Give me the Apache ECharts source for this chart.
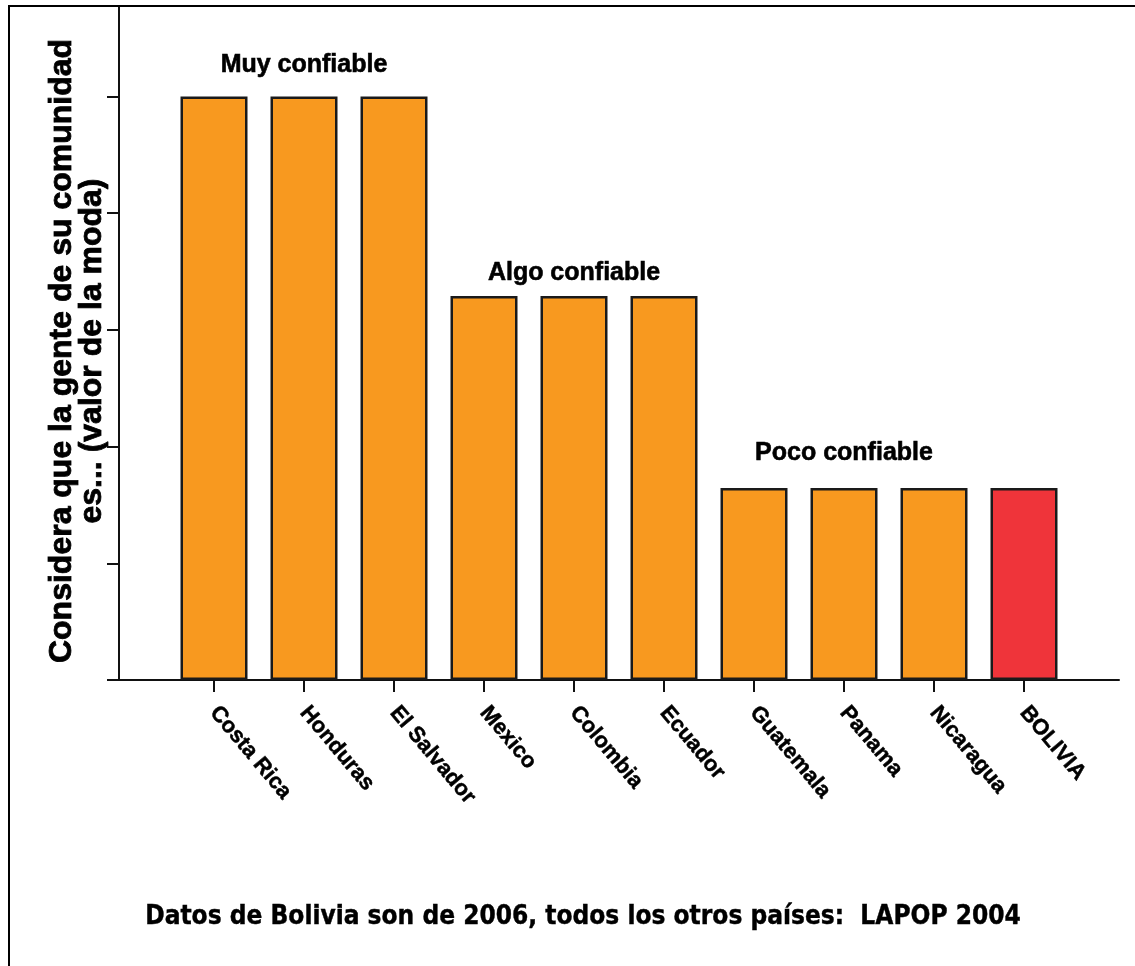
<!DOCTYPE html>
<html>
<head>
<meta charset="utf-8">
<script src="https://cdn.jsdelivr.net/npm/echarts@6/dist/echarts.min.js"></script>
<style>
  html, body { margin: 0; padding: 0; background: #fff; overflow: hidden; }
  #chart { width: 1135px; height: 966px; position: absolute; left: 0; top: 0; }
  #frame { position: absolute; left: 8px; top: 5px; width: 2000px; height: 2000px;
           border-left: 2px solid #000; border-top: 2px solid #000; pointer-events: none; }
</style>
</head>
<body>
<div id="chart"></div>
<div id="frame"></div>
<script>
const countries = ['Costa Rica', 'Honduras', 'El Salvador', 'Mexico', 'Colombia', 'Ecuador', 'Guatemala', 'Panama', 'Nicaragua', 'BOLIVIA'];
const values = [100, 100, 100, 65.8, 65.8, 65.8, 32.9, 32.9, 32.9, 32.9];
const groupLabels = ['', 'Muy confiable', '', '', 'Algo confiable', '', '', 'Poco confiable', '', ''];
const highlighted = 'BOLIVIA';
const yTickValues = [0, 20, 40, 60, 80, 100];
const yTitle = 'Considera que la gente de su comunidad\nes... (valor de la moda)';
const footnote = 'Datos de Bolivia son de 2006, todos los otros países:  LAPOP 2004';

// style / layout settings
const labelDistances = { 'Muy confiable': 19, 'Algo confiable': 10, 'Poco confiable': 22 };
const xPad = 0.5 + 5 / 9;
const boldFont = "'Liberation Sans', Arial, sans-serif";
const narrowFont = "'Liberation Sans Narrow', 'DejaVu Sans Condensed', sans-serif";
const idx = countries.map((_, i) => i);

const chart = echarts.init(document.getElementById('chart'), null, { renderer: 'canvas' });
chart.setOption({
  animation: false,
  backgroundColor: '#fff',
  title: {
    text: footnote,
    left: 583, top: 904, textAlign: 'center', padding: 0,
    textStyle: { fontFamily: narrowFont, fontSize: 26, fontWeight: 'bold', color: '#000',
                 textBorderColor: '#000', textBorderWidth: 0.4 }
  },
  grid: { left: 119, right: 16, top: 6, bottom: 286, containLabel: false },
  xAxis: {
    type: 'value',
    min: -xPad, max: countries.length - 1 + xPad,
    splitLine: { show: false },
    axisLine: { show: true, onZero: false, lineStyle: { color: '#111', width: 2 } },
    axisTick: { show: true, customValues: idx, length: 12, lineStyle: { color: '#111', width: 2 } },
    axisLabel: {
      show: true, customValues: idx, formatter: v => countries[v] || '',
      rotate: -50, margin: 29, color: '#000',
      fontFamily: boldFont, fontWeight: 'bold', fontSize: 22,
      textBorderColor: '#000', textBorderWidth: 0.5
    }
  },
  yAxis: {
    type: 'value', min: 0, max: 115.5, interval: 20,
    splitLine: { show: false },
    axisLine: { show: true, onZero: false, lineStyle: { color: '#111', width: 2 } },
    axisTick: { show: true, customValues: yTickValues, length: 12, lineStyle: { color: '#111', width: 2 } },
    axisLabel: { show: false },
    name: yTitle,
    nameLocation: 'middle',
    nameGap: 12,
    nameTextStyle: {
      fontFamily: boldFont, fontWeight: 'bold', fontSize: 32, lineHeight: 30,
      color: '#000', align: 'center', padding: [0, 16, 0, 0],
      textBorderColor: '#000', textBorderWidth: 0.8
    }
  },
  series: [{
    type: 'bar',
    barWidth: 67,
    data: values.map((v, i) => ({
      value: [i, v],
      itemStyle: { color: countries[i] === highlighted ? '#EF343A' : '#F8991F' },
      label: { distance: labelDistances[groupLabels[i]] || 0 }
    })),
    itemStyle: { borderColor: '#1a1a1a', borderWidth: 2.5 },
    label: {
      show: true, position: 'top',
      formatter: p => groupLabels[p.dataIndex],
      fontFamily: boldFont, fontWeight: 'bold', fontSize: 25, color: '#000',
      textBorderColor: '#000', textBorderWidth: 0.6
    }
  }]
});
</script>
</body>
</html>
